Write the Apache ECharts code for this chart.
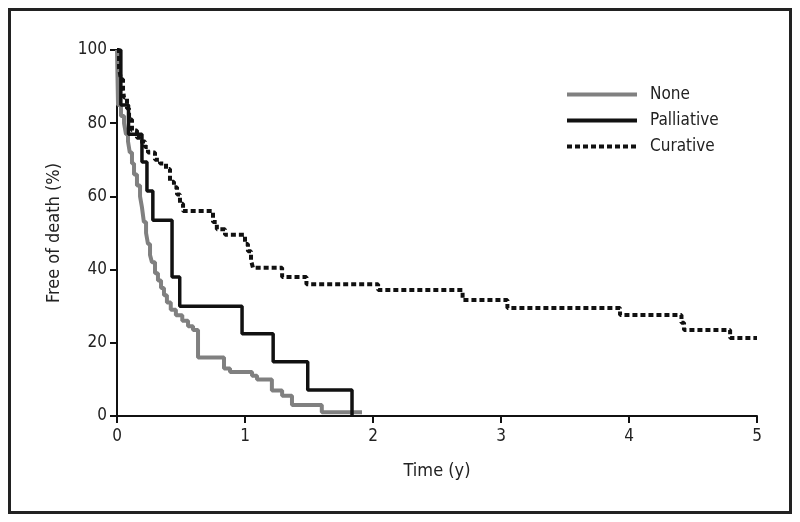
<!DOCTYPE html>
<html>
<head>
<meta charset="utf-8">
<script src="https://cdn.jsdelivr.net/npm/echarts@6/dist/echarts.min.js"></script>
<style>
html,body{margin:0;padding:0;background:#fff;}
#frame{position:absolute;left:8px;top:8px;width:778px;height:500px;border:3px solid #222;}
#chart{position:absolute;left:0;top:0;width:800px;height:522px;}
</style>
</head>
<body>
<div id="frame"></div>
<div id="chart"></div>
<script>
// Time (years) and survival (%) for each group
const noneTime = [0, 0.008, 0.031, 0.055, 0.07, 0.086, 0.10, 0.117, 0.133, 0.156, 0.18, 0.195, 0.21, 0.227, 0.242, 0.258, 0.273, 0.297, 0.32, 0.344, 0.367, 0.39, 0.42, 0.46, 0.51, 0.555, 0.594, 0.633, 0.836, 0.883, 1.055, 1.094, 1.21, 1.29, 1.367, 1.6, 1.914];
const noneValue = [100, 85, 82, 80, 77, 75, 72, 69, 66, 63, 60, 57, 53, 50, 47, 44, 42, 39, 37, 35, 33, 31, 29, 27.5, 26, 24.5, 23.5, 16, 13, 12, 11, 10, 7, 5.5, 3, 1, 1];

const palliativeTime = [0, 0.03, 0.09, 0.195, 0.234, 0.28, 0.43, 0.49, 0.977, 1.22, 1.49, 1.836];
const palliativeValue = [100, 85, 77, 69.4, 61.5, 53.5, 38, 30, 22.5, 14.8, 7.1, 0];

const curativeTime = [0, 0.016, 0.031, 0.047, 0.055, 0.078, 0.094, 0.117, 0.156, 0.18, 0.219, 0.242, 0.297, 0.336, 0.383, 0.414, 0.445, 0.469, 0.492, 0.516, 0.75, 0.78, 0.844, 1.0, 1.023, 1.047, 1.0625, 1.29, 1.48, 2.04, 2.70, 3.05, 3.93, 4.41, 4.43, 4.79, 5.0];
const curativeValue = [100, 95, 92, 89, 87, 84, 81, 78, 76, 75, 73.5, 72, 70, 69, 67.5, 64, 62.5, 60.5, 58, 56, 53, 51, 49.5, 47, 45, 42.5, 40.5, 38, 36, 34.4, 31.7, 29.5, 27.6, 25.5, 23.5, 21.3, 21.3];

const seriesNames = ['None', 'Palliative', 'Curative'];
const xTicks = [0, 1, 2, 3, 4, 5];
const yTicks = [0, 20, 40, 60, 80, 100];

function pairs(t, v) { return t.map((x, i) => [x, v[i]]); }

const FONT = "'Liberation Sans Narrow', 'DejaVu Sans Condensed', 'Liberation Sans', Arial, sans-serif";
const chart = echarts.init(document.getElementById('chart'), null, {renderer: 'canvas'});
chart.setOption({
  animation: false,
  backgroundColor: 'transparent',
  grid: {left: 117, right: 43, top: 50, bottom: 106, containLabel: false},
  legend: {
    orient: 'vertical', left: 560, top: 81, itemWidth: 70, itemHeight: 14, itemGap: 9,
    itemStyle: {opacity: 0},
    lineStyle: {width: 4},
    textStyle: {fontFamily: FONT, fontSize: 17, color: '#222', padding: [0, 0, 0, 8]},
    data: seriesNames
  },
  xAxis: {
    type: 'value', min: xTicks[0], max: xTicks[xTicks.length - 1], interval: 1,
    name: 'Time (y)', nameLocation: 'middle', nameGap: 46,
    nameTextStyle: {fontFamily: FONT, fontSize: 18, color: '#222'},
    axisLine: {show: true, lineStyle: {color: '#111', width: 2}},
    axisTick: {show: true, length: 7, lineStyle: {color: '#111', width: 2}},
    axisLabel: {fontFamily: FONT, fontSize: 17, color: '#222', margin: 12},
    splitLine: {show: false}
  },
  yAxis: {
    type: 'value', min: yTicks[0], max: yTicks[yTicks.length - 1], interval: 20,
    name: 'Free of death (%)', nameLocation: 'middle', nameGap: 54, nameRotate: 90,
    nameTextStyle: {fontFamily: FONT, fontSize: 18, color: '#222'},
    axisLine: {show: true, lineStyle: {color: '#111', width: 2}},
    axisTick: {show: true, length: 7, lineStyle: {color: '#111', width: 2}},
    axisLabel: {fontFamily: FONT, fontSize: 17, color: '#222', margin: 10},
    splitLine: {show: false}
  },
  series: [
    {name: seriesNames[0], type: 'line', step: 'end', symbol: 'none', data: pairs(noneTime, noneValue),
     lineStyle: {color: '#808080', width: 4, cap: 'butt'}, itemStyle: {color: '#808080'}},
    {name: seriesNames[1], type: 'line', step: 'end', symbol: 'none', data: pairs(palliativeTime, palliativeValue),
     lineStyle: {color: '#111', width: 3.5, cap: 'butt'}, itemStyle: {color: '#111'}},
    {name: seriesNames[2], type: 'line', step: 'end', symbol: 'none', data: pairs(curativeTime, curativeValue),
     lineStyle: {color: '#111', width: 4, type: [5, 3], cap: 'butt'}, itemStyle: {color: '#111'}}
  ]
});
</script>
</body>
</html>
